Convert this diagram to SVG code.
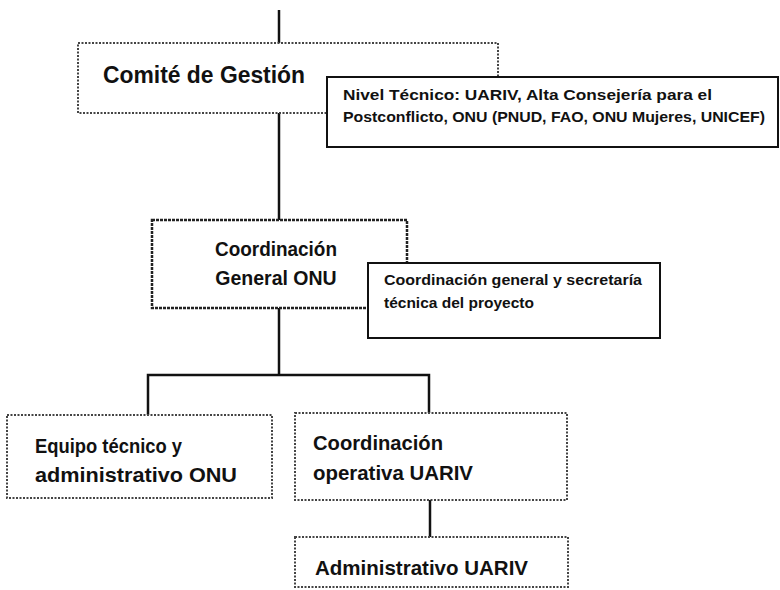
<svg xmlns="http://www.w3.org/2000/svg" width="780" height="590" viewBox="0 0 780 590">
<style>
  text { font-family: "Liberation Sans", Arial, sans-serif; font-weight: bold; fill: #111; }
  .dot { fill: #fff; stroke: #444; stroke-width: 2; stroke-dasharray: 2 1.5; }
  .dark { fill: #fff; stroke: #222; stroke-width: 2.5; stroke-dasharray: 3 1; }
  .solid { fill: #fff; stroke: #111; stroke-width: 2; }
  .conn { fill: none; stroke: #111; stroke-width: 2.5; }
</style>
<rect width="780" height="590" fill="#fff"/>
<g id="connectors">
  <line class="conn" x1="279" y1="10" x2="279" y2="43"/>
  <line class="conn" x1="279" y1="113" x2="279" y2="220"/>
  <line class="conn" x1="279" y1="308" x2="279" y2="375"/>
  <polyline class="conn" points="148,415 148,375 429,375 429,413"/>
  <line class="conn" x1="430" y1="500" x2="430" y2="537"/>
</g>
<g id="comite">
  <rect class="dot" x="78" y="43" width="420" height="70"/>
  <text x="103" y="83" font-size="23" textLength="202" lengthAdjust="spacingAndGlyphs">Comité de Gestión</text>
</g>
<g id="nivel">
  <rect class="solid" x="327" y="77" width="451" height="70"/>
  <text x="343" y="100" font-size="15.5" textLength="369" lengthAdjust="spacingAndGlyphs">Nivel Técnico: UARIV, Alta Consejería para el</text>
  <text x="343" y="122" font-size="15.5" textLength="422" lengthAdjust="spacingAndGlyphs">Postconflicto, ONU (PNUD, FAO, ONU Mujeres, UNICEF)</text>
</g>
<g id="coord-general">
  <rect class="dark" x="152" y="220" width="255" height="88"/>
  <text x="276" y="256" font-size="19.5" text-anchor="middle" textLength="122" lengthAdjust="spacingAndGlyphs">Coordinación</text>
  <text x="276" y="285" font-size="19.5" text-anchor="middle">General ONU</text>
</g>
<g id="secretaria">
  <rect class="solid" x="368" y="263" width="292" height="75"/>
  <text x="384" y="285" font-size="15.5" textLength="258" lengthAdjust="spacingAndGlyphs">Coordinación general y secretaría</text>
  <text x="384" y="308" font-size="15.5">técnica del proyecto</text>
</g>
<g id="equipo">
  <rect class="dot" x="7" y="415" width="265" height="83"/>
  <text x="35" y="453" font-size="21" textLength="147" lengthAdjust="spacingAndGlyphs">Equipo técnico y</text>
  <text x="35" y="482" font-size="21" textLength="202" lengthAdjust="spacingAndGlyphs">administrativo ONU</text>
</g>
<g id="coord-operativa">
  <rect class="dot" x="295" y="413" width="272" height="87"/>
  <text x="313" y="450" font-size="20.5" textLength="130" lengthAdjust="spacingAndGlyphs">Coordinación</text>
  <text x="313" y="480" font-size="20.5" textLength="160" lengthAdjust="spacingAndGlyphs">operativa UARIV</text>
</g>
<g id="administrativo">
  <rect class="dot" x="295" y="537" width="273" height="50"/>
  <text x="315" y="575" font-size="20.5" textLength="213" lengthAdjust="spacingAndGlyphs">Administrativo UARIV</text>
</g>
</svg>
